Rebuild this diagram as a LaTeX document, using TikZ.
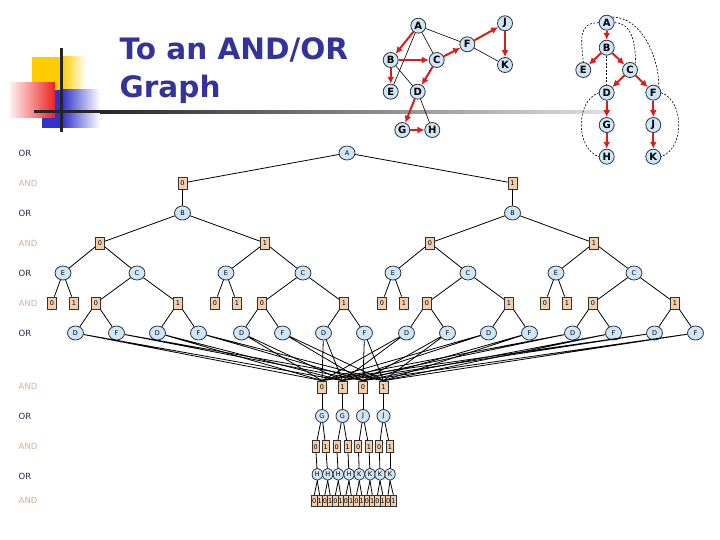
\documentclass[tikz,border=0pt]{standalone}
\usepackage{fontspec}
\setmainfont{DejaVu Sans}
\usepackage{xcolor}
\usetikzlibrary{arrows.meta,shapes.geometric,positioning,calc}
\definecolor{aotitle}{RGB}{51,51,153}
\definecolor{aoyellow}{RGB}{255,204,0}
\definecolor{aoblue}{RGB}{51,51,204}
\definecolor{aored}{RGB}{235,35,35}
\definecolor{aonavy}{RGB}{40,40,80}
\definecolor{aotan}{RGB}{215,175,145}
\definecolor{aonode}{RGB}{205,230,248}
\definecolor{aobox}{RGB}{245,205,170}
\definecolor{aoarc}{RGB}{215,30,30}

\tikzset{
    ornode/.style={draw=black!80, fill=aonode, ellipse, minimum width=16pt, minimum height=14pt, inner sep=0pt},
    andnode/.style={draw=black!80, fill=aobox, rectangle, minimum width=9pt, minimum height=12pt, inner sep=0pt},
    gnode/.style={draw=black!80, fill=aonode, circle, minimum size=15pt, inner sep=0pt, font=\fontsize{10}{10}\selectfont\bfseries},
    redarc/.style={-{Latex[length=7pt,width=7pt]}, line width=2pt, aoarc},
    backarc/.style={line width=0.6pt, black},
    dasharc/.style={line width=0.6pt, black, dash pattern=on 2pt off 1.5pt},
    orlab/.style={anchor=west, aonavy, font=\fontsize{8.5}{9}\selectfont},
    andlab/.style={anchor=west, aotan, font=\fontsize{8.5}{9}\selectfont}
}

\begin{document}
\begin{tikzpicture}[x=1pt, y=-1pt, every node/.style={font=\fontsize{6.5}{7}\selectfont}, line width=0.8pt]
    \fill[white] (0,0) rectangle (720,540);

    % Title decoration
    \fill[aoyellow] (32,57) rectangle (62,90);
    \fill[left color=aoyellow, right color=white] (62,57) rectangle (86,90);
    \fill[aoblue] (42,90) rectangle (62,128);
    \fill[left color=aoblue, right color=white] (62,90) rectangle (100,128);
    \fill[left color=red!6, right color=aored] (10,83) rectangle (55,118);
    \fill[black!85] (59.5,48) rectangle (62.5,132);
    \fill[black!85] (34,110.5) rectangle (100,113.5);
    \fill[left color=black!85, right color=black!12] (100,110.5) rectangle (610,113.5);

    \node[anchor=base west, aotitle, font=\fontsize{29.5}{30}\selectfont\bfseries] (title1) at (116,60) {To an AND/OR};
    \node[anchor=base west, aotitle, font=\fontsize{29.5}{30}\selectfont\bfseries] (title2) at (116,98) {Graph};

    % Middle: the graph with its DFS arcs
    \node[gnode] (grA) at (418.3,25.7) {A};
    \node[gnode] (grB) at (390.7,60) {B};
    \node[gnode] (grC) at (436.7,60) {C};
    \node[gnode] (grF) at (467.3,44.3) {F};
    \node[gnode] (grJ) at (505,23.3) {J};
    \node[gnode] (grK) at (505,65) {K};
    \node[gnode] (grE) at (390.7,91.7) {E};
    \node[gnode] (grD) at (417.7,91.7) {D};
    \node[gnode] (grG) at (402.3,130) {G};
    \node[gnode] (grH) at (432.3,130) {H};
    \draw[backarc] (grA) -- (grF) (grA) -- (grC) (grA) -- (grE) (grB) -- (grD) (grF) -- (grK) (grD) -- (grH);
    \draw[redarc] (grA) -- (grB);
    \draw[redarc] (grB) -- (grC);
    \draw[redarc] (grB) -- (grE);
    \draw[redarc] (grC) -- (grF);
    \draw[redarc] (grF) -- (grJ);
    \draw[redarc] (grJ) -- (grK);
    \draw[redarc] (grC) -- (grD);
    \draw[redarc] (grD) -- (grG);
    \draw[redarc] (grG) -- (grH);

    % Right: the DFS tree
    \node[gnode] (trA) at (606.7,22.7) {A};
    \node[gnode] (trB) at (606.7,47.7) {B};
    \node[gnode] (trE) at (583.3,70) {E};
    \node[gnode] (trC) at (630,70) {C};
    \node[gnode] (trD) at (606.7,92.7) {D};
    \node[gnode] (trF) at (653.3,92.7) {F};
    \node[gnode] (trG) at (606.7,125) {G};
    \node[gnode] (trJ) at (653.3,125) {J};
    \node[gnode] (trH) at (606.7,156.7) {H};
    \node[gnode] (trK) at (653.3,156.7) {K};
    \draw[redarc] (trA) -- (trB);
    \draw[redarc] (trB) -- (trE);
    \draw[redarc] (trB) -- (trC);
    \draw[redarc] (trC) -- (trD);
    \draw[redarc] (trC) -- (trF);
    \draw[redarc] (trD) -- (trG);
    \draw[redarc] (trG) -- (trH);
    \draw[redarc] (trF) -- (trJ);
    \draw[redarc] (trJ) -- (trK);
    \draw[dasharc] (trA.west) to[out=180, in=95, looseness=1.3] (trE.north);
    \draw[dasharc] (trA.east) to[out=0, in=90] (trC.north east);
    \draw[dasharc] (trA.north east) to[out=0, in=90, looseness=0.9] (trF.north east);
    \draw[dasharc] (trB) -- (trD);
    \draw[dasharc] (trD.west) to[out=200, in=160] (trH.west);
    \draw[dasharc] (trF.east) to[out=-20, in=20] (trK.east);

    % Level labels
    \foreach \y/\t [count=\i] in {153/OR, 183/AND, 213/OR, 243/AND, 273/OR, 303/AND, 333/OR, 386/AND, 416/OR, 446/AND, 476/OR, 500/AND}
        \node[\ifodd\i orlab\else andlab\fi] (lv\i) at (15,\y) {\t};

    % AND/OR tree: root and first choices
    \node[ornode] (rA) at (347,153) {A};
    \node[andnode] (r0) at (182.5,183) {0};
    \node[andnode] (r1) at (512.5,183) {1};
    \node[ornode] (b0) at (182.5,213) {B};
    \node[ornode] (b1) at (512.5,213) {B};
    \draw (rA) -- (r0) (rA) -- (r1) (r0) -- (b0) (r1) -- (b1);

    \foreach \x/\p/\t [count=\i] in {100/b0/0, 265/b0/1, 430/b1/0, 594/b1/1} {
        \node[andnode] (s\i) at (\x,243) {\t};
        \draw (\p) -- (s\i);
    }

    % E and C with their choices
    \foreach \xe/\xc [count=\i] in {63/137, 226/303, 393/468, 556/634} {
        \node[ornode] (e\i) at (\xe,273) {E};
        \node[ornode] (c\i) at (\xc,273) {C};
        \draw (s\i) -- (e\i) (s\i) -- (c\i);
        \node[andnode] (e\i-z) at (\xe-11,303) {0};
        \node[andnode] (e\i-o) at (\xe+11,303) {1};
        \node[andnode] (c\i-z) at (\xc-41,303) {0};
        \node[andnode] (c\i-o) at (\xc+41,303) {1};
        \draw (e\i) -- (e\i-z) (e\i) -- (e\i-o) (c\i) -- (c\i-z) (c\i) -- (c\i-o);
    }

    % D and F under every choice of C
    \foreach \b [count=\k] in {c1-z, c1-o, c2-z, c2-o, c3-z, c3-o, c4-z, c4-o} {
        \path (\b) ++(-20.5,30) node[ornode] (d\k) {D};
        \path (\b) ++(20.5,30) node[ornode] (f\k) {F};
        \draw (\b) -- (d\k) (\b) -- (f\k);
    }

    % shared choices of D and F
    \node[andnode] (g0) at (322,387) {0};
    \node[andnode] (g1) at (342.5,387) {1};
    \node[andnode] (j0) at (363,387) {0};
    \node[andnode] (j1) at (383.5,387) {1};
    \foreach \k in {1,...,8}
        \draw (d\k) -- (g0.north) (d\k) -- (g1.north) (f\k) -- (j0.north) (f\k) -- (j1.north);

    % G and J
    \foreach \x/\t/\p [count=\i] in {322/G/g0, 342.5/G/g1, 363/J/j0, 383.5/J/j1} {
        \node[ornode, minimum width=13pt, minimum height=13pt] (m\i) at (\x,416) {\t};
        \draw (\p) -- (m\i);
    }

    % choices of G and J, then H and K
    \foreach \xb/\xh/\t [count=\i] in {315.7/317.3/H, 325.7/327.7/H, 336.7/338.3/H, 347.7/349/H, 358.3/359.3/K, 369/370/K, 379.3/380/K, 390/390/K} {
        \pgfmathtruncatemacro\up{int((\i+1)/2)}
        \pgfmathtruncatemacro\bit{mod(\i+1,2)}
        \node[andnode, minimum width=7pt] (n\i) at (\xb,446.7) {\bit};
        \draw (m\up) -- (n\i);
        \node[ornode, minimum width=10.4pt, minimum height=12pt] (h\i) at (\xh,474.3) {\t};
        \draw (n\i) -- (h\i);
    }

    % last choices of H and K
    \foreach \i in {1,...,16} {
        \pgfmathtruncatemacro\up{int((\i+1)/2)}
        \pgfmathtruncatemacro\bit{mod(\i+1,2)}
        \node[andnode, minimum width=5.3pt, minimum height=11pt] (l\i) at ({314.3+5.27*(\i-1)},500.7) {\bit};
        \draw (h\up.south) -- (l\i.north);
    }
\end{tikzpicture}
\end{document}
